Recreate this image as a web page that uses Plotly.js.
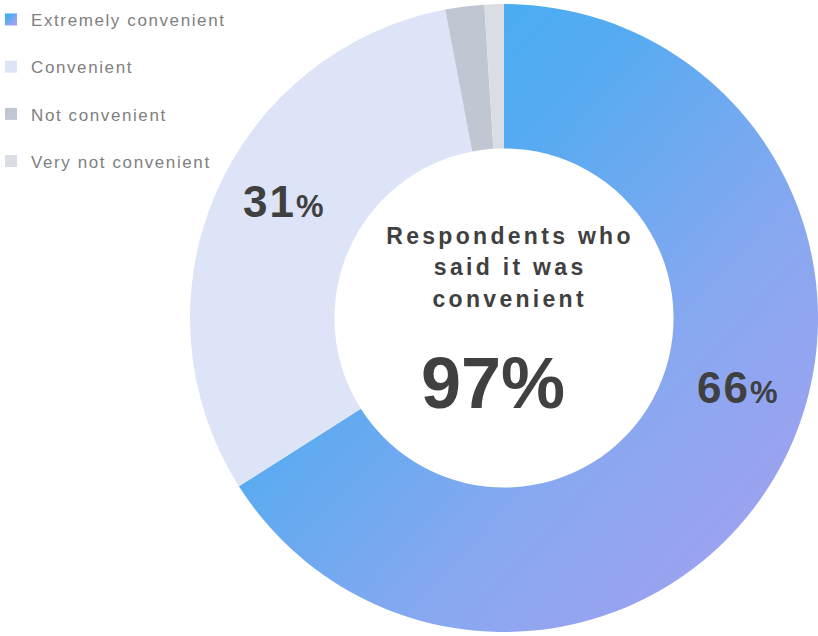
<!DOCTYPE html>
<html>
<head>
<meta charset="utf-8">
<script src="https://cdn.plot.ly/plotly-3.0.1.min.js"></script>
<style>
  html, body { margin: 0; padding: 0; background: #fff; }
  #chart { width: 818px; height: 636px; }
  .legendtext { letter-spacing: 1.6px; }
  .annotation[data-index="0"] text,
  .annotation[data-index="1"] text,
  .annotation[data-index="2"] text { letter-spacing: 3.3px; }
  .annotation[data-index="4"] text,
  .annotation[data-index="5"] text { letter-spacing: 2px; }
</style>
</head>
<body>
<div id="chart"></div>
<script>
// ---- data ----
const labels = ["Extremely convenient", "Convenient", "Not convenient", "Very not convenient"];
const values = [66, 31, 2, 1];
const colors = ["#6fa8f2", "#dde4f8", "#c0c7d2", "#dadde3"];
const centerLines = ["Respondents who", "said it was", "convenient"];
const convenientTotal = values[0] + values[1];

const darkText = "#404040";
const font = "Liberation Sans, Arial, sans-serif";

const pie = {
  type: "pie",
  labels: labels.map(l => l + "<br> "),
  values: values,
  sort: false,
  direction: "clockwise",
  rotation: 0,
  hole: 0.54,
  domain: { x: [0.2323, 1], y: [0, 1] },
  marker: { colors: colors, line: { width: 0 } },
  textinfo: "none",
  hoverinfo: "skip"
};

function pctLabel(v) {
  return "<b>" + v + "<span style='font-size:31px'>%</span></b>";
}

const annotations = [];
centerLines.forEach((line, i) => {
  annotations.push({
    xref: "paper", yref: "paper", x: 0.624, y: 1 - (236 + i * 31.5) / 636,
    text: "<b>" + line + "</b>", showarrow: false,
    font: { family: font, size: 23, color: darkText },
    xanchor: "center", yanchor: "middle"
  });
});
annotations.push({
  xref: "paper", yref: "paper", x: 0.603, y: 0.398,
  text: "<b>" + convenientTotal + "%</b>", showarrow: false,
  font: { family: font, size: 72, color: darkText },
  xanchor: "center", yanchor: "middle"
});
annotations.push({
  xref: "paper", yref: "paper", x: 0.348, y: 0.683,
  text: pctLabel(values[1]), showarrow: false,
  font: { family: font, size: 44, color: darkText },
  xanchor: "center", yanchor: "middle"
});
annotations.push({
  xref: "paper", yref: "paper", x: 0.903, y: 0.391,
  text: pctLabel(values[0]), showarrow: false,
  font: { family: font, size: 44, color: darkText },
  xanchor: "center", yanchor: "middle"
});

const layout = {
  width: 818, height: 636,
  margin: { l: 0, r: 0, t: 0, b: 0, autoexpand: false },
  paper_bgcolor: "#ffffff",
  showlegend: true,
  legend: {
    x: -0.011, y: 0.997, xanchor: "left", yanchor: "top",
    bgcolor: "rgba(0,0,0,0)",
    font: { family: font, size: 17, color: "#808080" },
    valign: "top",
    traceorder: "normal"
  },
  annotations: annotations
};

Plotly.newPlot("chart", [pie], layout, { displayModeBar: false, staticPlot: true }).then(gd => {
  const svgNS = "http://www.w3.org/2000/svg";
  const svg = gd.querySelector("svg.main-svg");
  const defs = document.createElementNS(svgNS, "defs");
  const grad = document.createElementNS(svgNS, "linearGradient");
  grad.setAttribute("id", "extGrad");
  grad.setAttribute("x1", "0"); grad.setAttribute("y1", "0");
  grad.setAttribute("x2", "1"); grad.setAttribute("y2", "1");
  [["0", "#3bb0f4"], ["0.35", "#55abf1"], ["0.65", "#88a8f0"], ["1", "#a89ff0"]].forEach(([o, c]) => {
    const s = document.createElementNS(svgNS, "stop");
    s.setAttribute("offset", o); s.setAttribute("stop-color", c);
    grad.appendChild(s);
  });
  defs.appendChild(grad);
  svg.insertBefore(defs, svg.firstChild);
  const slice = gd.querySelectorAll("g.slice path.surface")[0];
  if (slice) slice.style.fill = "url(#extGrad)";
  const legPts = gd.querySelectorAll("g.legendpoints path");
  if (legPts[0]) legPts[0].style.fill = "url(#extGrad)";
});
</script>
</body>
</html>
